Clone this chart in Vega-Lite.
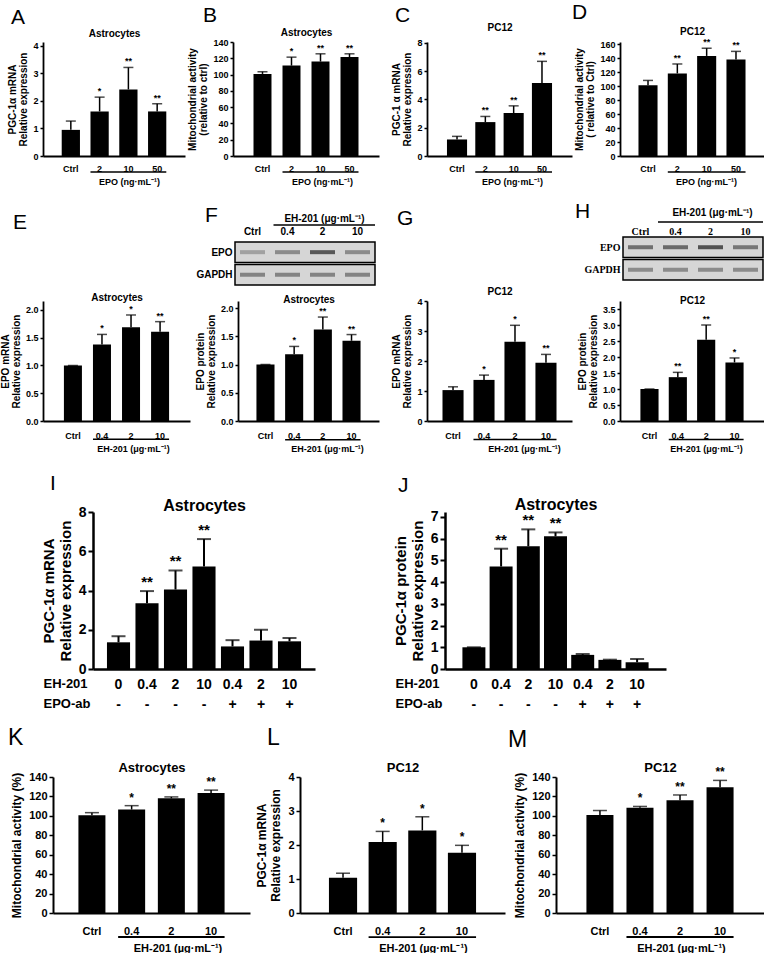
{
"$schema":"https://vega.github.io/schema/vega-lite/v6.json",
"padding":0,
"background":"white",
"spacing":0,
"bounds":"full",
"config":{
 "view":{"stroke":null},
 "font":"Liberation Sans",
 "axis":{"domainColor":"#000","domainWidth":1.8,"tickColor":"#000","tickWidth":1.5,"tickSize":3,"labelColor":"#000","labelFontWeight":"bold","labelFont":"Liberation Sans","titleColor":"#000","titleFontWeight":"bold","titleFont":"Liberation Sans","grid":false,"labelOverlap":false,"labelPadding":2},
 "title":{"font":"Liberation Sans","fontWeight":"normal","color":"#000","anchor":"start","frame":"group","fontSize":21},
 "text":{"font":"Liberation Sans","fontWeight":"bold","color":"#000"}
},
"vconcat":[
 {"width":1,"height":2,"data":{"values":[]},"mark":{"type":"text","text":""}},
 {"spacing":0,"bounds":"flush","hconcat":[
  {"width":43,"height":1,"data":{"values":[]},"mark":{"type":"text","text":""}},
  {"width":142,"height":114,"title":{"text":"A","dx":-32,"offset":0},
   "data":{"values":[{"g":"Ctrl","m":0.95,"u":1.27,"s":""},{"g":"2","m":1.62,"u":2.14,"s":"*"},{"g":"10","m":2.42,"u":3.22,"s":"**"},{"g":"50","m":1.62,"u":1.9,"s":"**"}]},
   "layer":[
    {"mark":{"type":"bar","color":"#000"},"encoding":{
     "x":{"field":"g","type":"nominal","sort":null,"scale":{"domain":["Ctrl","2","10","50"],"paddingInner":0.366,"paddingOuter":0.65},"axis":{"orient":"bottom","ticks":false,"labelAngle":0,"labelFontSize":9,"labelPadding":8,"title":"EPO (ng·mL⁻¹)","titleFontSize":9,"titleX":86,"titleY":25,"titleBaseline":"middle"}},
     "y":{"field":"m","type":"quantitative","scale":{"domain":[0,4.145],"nice":false},"axis":{"values":[0,1,2,3,4],"labelFontSize":9,"title":["PGC-1α mRNA","Relative expression"],"titleFontSize":10,"titlePadding":4,"titleLineHeight":11}}}},
    {"mark":{"type":"rule","strokeWidth":1.5,"color":"#000"},"encoding":{
     "x":{"field":"g","type":"nominal","sort":null,"axis":{"orient":"top","labels":false,"ticks":false,"domain":false,"title":"Astrocytes","titleFontSize":10,"titleY":-9,"titleBaseline":"middle"}},
     "y":{"field":"m","type":"quantitative","axis":null},"y2":{"field":"u"}}},
    {"mark":{"type":"tick","thickness":1.5,"size":10,"color":"#000"},"encoding":{"x":{"field":"g","type":"nominal","sort":null,"axis":null},"y":{"field":"u","type":"quantitative","axis":null}}},
    {"mark":{"type":"text","baseline":"bottom","dy":-1,"fontSize":9},"encoding":{"x":{"field":"g","type":"nominal","sort":null,"axis":null},"y":{"field":"u","type":"quantitative","axis":null},"text":{"field":"s"}}},
    {"data":{"values":[{"a":"2","b":"50"}]},"mark":{"type":"rule","strokeWidth":1.5,"color":"#000"},"encoding":{"x":{"field":"a","type":"nominal","bandPosition":0,"axis":null},"x2":{"field":"b","bandPosition":1},"y":{"datum":-0.58,"axis":null}}}
   ],
   "resolve":{"axis":{"x":"independent","y":"independent"}}},
  {"width":48,"height":1,"data":{"values":[]},"mark":{"type":"text","text":""}},
  {"width":146,"height":114,"title":{"text":"B","dx":-30,"offset":1},
   "data":{"values":[{"g":"Ctrl","m":100.8,"u":103.5,"s":""},{"g":"2","m":111,"u":121.4,"s":"*"},{"g":"10","m":116,"u":125.5,"s":"**"},{"g":"50","m":121.5,"u":125.5,"s":"**"}]},
   "layer":[
    {"mark":{"type":"bar","color":"#000"},"encoding":{
     "x":{"field":"g","type":"nominal","sort":null,"scale":{"domain":["Ctrl","2","10","50"],"paddingInner":0.38,"paddingOuter":0.707},"axis":{"orient":"bottom","ticks":false,"labelAngle":0,"labelFontSize":9,"labelPadding":8,"title":"EPO (ng·mL⁻¹)","titleFontSize":9,"titleX":89,"titleY":25,"titleBaseline":"middle"}},
     "y":{"field":"m","type":"quantitative","scale":{"domain":[0,140],"nice":false},"axis":{"values":[0,20,40,60,80,100,120,140],"labelFontSize":9,"title":["Mitochondrial activity","(relative to ctrl)"],"titleFontSize":10,"titlePadding":4,"titleLineHeight":11}}}},
    {"mark":{"type":"rule","strokeWidth":1.5,"color":"#000"},"encoding":{
     "x":{"field":"g","type":"nominal","sort":null,"axis":{"orient":"top","labels":false,"ticks":false,"domain":false,"title":"Astrocytes","titleFontSize":10,"titleY":-10,"titleBaseline":"middle"}},
     "y":{"field":"m","type":"quantitative","axis":null},"y2":{"field":"u"}}},
    {"mark":{"type":"tick","thickness":1.5,"size":10,"color":"#000"},"encoding":{"x":{"field":"g","type":"nominal","sort":null,"axis":null},"y":{"field":"u","type":"quantitative","axis":null}}},
    {"mark":{"type":"text","baseline":"bottom","dy":-1,"fontSize":9},"encoding":{"x":{"field":"g","type":"nominal","sort":null,"axis":null},"y":{"field":"u","type":"quantitative","axis":null},"text":{"field":"s"}}},
    {"data":{"values":[{"a":"2","b":"50"}]},"mark":{"type":"rule","strokeWidth":1.5,"color":"#000"},"encoding":{"x":{"field":"a","type":"nominal","bandPosition":0,"axis":null},"x2":{"field":"b","bandPosition":1},"y":{"datum":-19.6,"axis":null}}}
   ],
   "resolve":{"axis":{"x":"independent","y":"independent"}}},
  {"width":48,"height":1,"data":{"values":[]},"mark":{"type":"text","text":""}},
  {"width":145,"height":114,"title":{"text":"C","dx":-32,"offset":-4},
   "data":{"values":[{"g":"Ctrl","m":1.17,"u":1.39,"s":""},{"g":"2","m":2.4,"u":2.8,"s":"**"},{"g":"10","m":3.04,"u":3.55,"s":"**"},{"g":"50","m":5.17,"u":6.7,"s":"**"}]},
   "layer":[
    {"mark":{"type":"bar","color":"#000"},"encoding":{
     "x":{"field":"g","type":"nominal","sort":null,"scale":{"domain":["Ctrl","2","10","50"],"paddingInner":0.29,"paddingOuter":0.705},"axis":{"orient":"bottom","ticks":false,"labelAngle":0,"labelFontSize":9,"labelPadding":8,"title":"EPO (ng·mL⁻¹)","titleFontSize":9,"titleX":85,"titleY":25,"titleBaseline":"middle"}},
     "y":{"field":"m","type":"quantitative","scale":{"domain":[0,8.07],"nice":false},"axis":{"values":[0,2,4,6,8],"labelFontSize":9,"title":["PGC-1 α mRNA","Relative expression"],"titleFontSize":10,"titlePadding":4,"titleLineHeight":11}}}},
    {"mark":{"type":"rule","strokeWidth":1.5,"color":"#000"},"encoding":{
     "x":{"field":"g","type":"nominal","sort":null,"axis":{"orient":"top","labels":false,"ticks":false,"domain":false,"title":"PC12","titleFontSize":10,"titleY":-15,"titleBaseline":"middle"}},
     "y":{"field":"m","type":"quantitative","axis":null},"y2":{"field":"u"}}},
    {"mark":{"type":"tick","thickness":1.5,"size":10,"color":"#000"},"encoding":{"x":{"field":"g","type":"nominal","sort":null,"axis":null},"y":{"field":"u","type":"quantitative","axis":null}}},
    {"mark":{"type":"text","baseline":"bottom","dy":-1,"fontSize":9},"encoding":{"x":{"field":"g","type":"nominal","sort":null,"axis":null},"y":{"field":"u","type":"quantitative","axis":null},"text":{"field":"s"}}},
    {"data":{"values":[{"a":"2","b":"50"}]},"mark":{"type":"rule","strokeWidth":1.5,"color":"#000"},"encoding":{"x":{"field":"a","type":"nominal","bandPosition":0,"axis":null},"x2":{"field":"b","bandPosition":1},"y":{"datum":-1.13,"axis":null}}}
   ],
   "resolve":{"axis":{"x":"independent","y":"independent"}}},
  {"width":48,"height":1,"data":{"values":[]},"mark":{"type":"text","text":""}},
  {"width":144,"height":114,"title":{"text":"D","dx":-48,"offset":3},
   "data":{"values":[{"g":"Ctrl","m":101,"u":108,"s":""},{"g":"2","m":118,"u":131.5,"s":"**"},{"g":"10","m":143,"u":154,"s":"**"},{"g":"50","m":138,"u":149.5,"s":"**"}]},
   "layer":[
    {"mark":{"type":"bar","color":"#000"},"encoding":{
     "x":{"field":"g","type":"nominal","sort":null,"scale":{"domain":["Ctrl","2","10","50"],"paddingInner":0.35,"paddingOuter":0.63},"axis":{"orient":"bottom","ticks":false,"labelAngle":0,"labelFontSize":9,"labelPadding":8,"title":"EPO (ng·mL⁻¹)","titleFontSize":9,"titleX":86,"titleY":25,"titleBaseline":"middle"}},
     "y":{"field":"m","type":"quantitative","scale":{"domain":[0,162.9],"nice":false},"axis":{"values":[0,20,40,60,80,100,120,140,160],"labelFontSize":9,"title":["Mitochondrial activity","( relative to Ctrl)"],"titleFontSize":10,"titlePadding":4,"titleLineHeight":11}}}},
    {"mark":{"type":"rule","strokeWidth":1.5,"color":"#000"},"encoding":{
     "x":{"field":"g","type":"nominal","sort":null,"axis":{"orient":"top","labels":false,"ticks":false,"domain":false,"title":"PC12","titleFontSize":10,"titleY":-11,"titleBaseline":"middle"}},
     "y":{"field":"m","type":"quantitative","axis":null},"y2":{"field":"u"}}},
    {"mark":{"type":"tick","thickness":1.5,"size":10,"color":"#000"},"encoding":{"x":{"field":"g","type":"nominal","sort":null,"axis":null},"y":{"field":"u","type":"quantitative","axis":null}}},
    {"mark":{"type":"text","baseline":"bottom","dy":-1,"fontSize":9},"encoding":{"x":{"field":"g","type":"nominal","sort":null,"axis":null},"y":{"field":"u","type":"quantitative","axis":null},"text":{"field":"s"}}},
    {"data":{"values":[{"a":"2","b":"50"}]},"mark":{"type":"rule","strokeWidth":1.5,"color":"#000"},"encoding":{"x":{"field":"a","type":"nominal","bandPosition":0,"axis":null},"x2":{"field":"b","bandPosition":1},"y":{"datum":-22.9,"axis":null}}}
   ],
   "resolve":{"axis":{"x":"independent","y":"independent"}}}
 ]},
 {"width":1,"height":15,"data":{"values":[]},"mark":{"type":"text","text":""}},
 {"spacing":0,"bounds":"flush","hconcat":[
  {"width":13,"height":1,"data":{"values":[]},"mark":{"type":"text","text":""}},
  {"width":1,"height":1,"title":{"text":"E","offset":4},"data":{"values":[]},"mark":{"type":"text","text":""}},
  {"width":191,"height":1,"data":{"values":[]},"mark":{"type":"text","text":""}},
  {"width":1,"height":1,"title":{"text":"F","offset":11},"data":{"values":[]},"mark":{"type":"text","text":""}},
  {"width":29,"height":1,"data":{"values":[]},"mark":{"type":"text","text":""}},
  {"width":140,"height":48,
   "layer":[
    {"data":{"values":[{"row":"EPO","y0":1.1,"y1":2.1,"a":"Ctrl","b":"10"},{"row":"GAPDH","y0":0,"y1":1,"a":"Ctrl","b":"10"}]},
     "mark":{"type":"rect","fill":"#d6d6d6","stroke":"#000","strokeWidth":1.5},
     "encoding":{
      "x":{"field":"a","type":"nominal","bandPosition":0,"sort":null,"scale":{"domain":["Ctrl","0.4","2","10"],"paddingInner":0,"paddingOuter":0},"axis":{"orient":"top","ticks":false,"domain":false,"labelAngle":0,"labelFontSize":10,"labelPadding":1,"title":"EH-201 (μg·mL⁻¹)","titleFontSize":10,"titleX":89,"titleY":-19,"titleBaseline":"middle"}},
      "x2":{"field":"b","bandPosition":1},
      "y":{"field":"y0","type":"quantitative","scale":{"domain":[0,2.34],"nice":false},"axis":{"values":[0.5,1.6],"labelExpr":"datum.value > 1 ? 'EPO' : 'GAPDH'","ticks":false,"domain":false,"title":null,"labelFontSize":10,"labelPadding":3}},
      "y2":{"field":"y1"}}},
    {"data":{"values":[{"lane":"Ctrl","y":1.6,"v":0.35},{"lane":"0.4","y":1.6,"v":0.5},{"lane":"2","y":1.6,"v":0.9},{"lane":"10","y":1.6,"v":0.5},{"lane":"Ctrl","y":0.5,"v":0.55},{"lane":"0.4","y":0.5,"v":0.55},{"lane":"2","y":0.5,"v":0.55},{"lane":"10","y":0.5,"v":0.55}]},
     "mark":{"type":"tick","thickness":4,"size":25},
     "encoding":{"x":{"field":"lane","type":"nominal","axis":null},"y":{"field":"y","type":"quantitative","axis":null},"color":{"field":"v","type":"quantitative","scale":{"domain":[0,1],"range":["#d6d6d6","#111111"]},"legend":null}}},
    {"data":{"values":[{"a":"0.4","b":"10"}]},"mark":{"type":"rule","strokeWidth":1.5,"color":"#000"},"encoding":{"x":{"field":"a","type":"nominal","bandPosition":0.1,"axis":null},"x2":{"field":"b","bandPosition":1},"y":{"datum":2.93,"axis":null}}}
   ],
   "resolve":{"axis":{"x":"independent","y":"independent"}}},
  {"width":22,"height":1,"data":{"values":[]},"mark":{"type":"text","text":""}},
  {"width":1,"height":1,"title":{"text":"G","offset":8},"data":{"values":[]},"mark":{"type":"text","text":""}},
  {"width":177,"height":1,"data":{"values":[]},"mark":{"type":"text","text":""}},
  {"width":1,"height":1,"title":{"text":"H","offset":15},"data":{"values":[]},"mark":{"type":"text","text":""}},
  {"width":47,"height":1,"data":{"values":[]},"mark":{"type":"text","text":""}},
  {"width":140,"height":43,
   "layer":[
    {"data":{"values":[{"row":"EPO","y0":1.1,"y1":2.1,"a":"Ctrl","b":"10"},{"row":"GAPDH","y0":0,"y1":1,"a":"Ctrl","b":"10"}]},
     "mark":{"type":"rect","fill":"#d6d6d6","stroke":"#000","strokeWidth":1.5},
     "encoding":{
      "x":{"field":"a","type":"nominal","bandPosition":0,"sort":null,"scale":{"domain":["Ctrl","0.4","2","10"],"paddingInner":0,"paddingOuter":0},"axis":{"orient":"top","ticks":false,"domain":false,"labelAngle":0,"labelFontSize":10,"labelFont":"Liberation Serif","labelPadding":1,"title":"EH-201 (μg·mL⁻¹)","titleFontSize":10,"titleX":89,"titleY":-25,"titleBaseline":"middle"}},
      "x2":{"field":"b","bandPosition":1},
      "y":{"field":"y0","type":"quantitative","scale":{"domain":[0,2.1],"nice":false},"axis":{"values":[0.5,1.6],"labelExpr":"datum.value > 1 ? 'EPO' : 'GAPDH'","ticks":false,"domain":false,"title":null,"labelFontSize":10,"labelFont":"Liberation Serif","labelPadding":3}},
      "y2":{"field":"y1"}}},
    {"data":{"values":[{"lane":"Ctrl","y":1.6,"v":0.7},{"lane":"0.4","y":1.6,"v":0.75},{"lane":"2","y":1.6,"v":0.95},{"lane":"10","y":1.6,"v":0.65},{"lane":"Ctrl","y":0.5,"v":0.5},{"lane":"0.4","y":0.5,"v":0.5},{"lane":"2","y":0.5,"v":0.5},{"lane":"10","y":0.5,"v":0.5}]},
     "mark":{"type":"tick","thickness":4,"size":25},
     "encoding":{"x":{"field":"lane","type":"nominal","axis":null},"y":{"field":"y","type":"quantitative","axis":null},"color":{"field":"v","type":"quantitative","scale":{"domain":[0,1],"range":["#d6d6d6","#111111"]},"legend":null}}},
    {"data":{"values":[{"a":"0.4","b":"10"}]},"mark":{"type":"rule","strokeWidth":1.5,"color":"#000"},"encoding":{"x":{"field":"a","type":"nominal","bandPosition":0,"axis":null},"x2":{"field":"b","bandPosition":1},"y":{"datum":2.83,"axis":null}}}
   ],
   "resolve":{"axis":{"x":"independent","y":"independent"}}}
 ]},
 {"spacing":0,"bounds":"flush","hconcat":[
  {"width":43,"height":1,"data":{"values":[]},"mark":{"type":"text","text":""}},
  {"width":147,"height":120,
   "data":{"values":[{"g":"Ctrl","m":1.0,"u":1.0,"s":""},{"g":"0.4","m":1.38,"u":1.56,"s":"*"},{"g":"2","m":1.69,"u":1.91,"s":"*"},{"g":"10","m":1.61,"u":1.79,"s":"**"}]},
   "layer":[
    {"mark":{"type":"bar","color":"#000"},"encoding":{
     "x":{"field":"g","type":"nominal","sort":null,"scale":{"domain":["Ctrl","0.4","2","10"],"paddingInner":0.38,"paddingOuter":0.72},"axis":{"orient":"bottom","ticks":false,"labelAngle":0,"labelFontSize":9,"labelPadding":10,"title":"EH-201 (μg·mL⁻¹)","titleFontSize":9,"titleX":90,"titleY":27,"titleBaseline":"middle"}},
     "y":{"field":"m","type":"quantitative","scale":{"domain":[0,2.162],"nice":false},"axis":{"values":[0,0.5,1,1.5,2],"format":".1f","labelFontSize":9,"title":["EPO mRNA","Relative expression"],"titleFontSize":10,"titlePadding":4,"titleLineHeight":11}}}},
    {"mark":{"type":"rule","strokeWidth":1.5,"color":"#000"},"encoding":{
     "x":{"field":"g","type":"nominal","sort":null,"axis":{"orient":"top","labels":false,"ticks":false,"domain":false,"title":"Astrocytes","titleFontSize":10,"titleY":-4,"titleBaseline":"middle"}},
     "y":{"field":"m","type":"quantitative","axis":null},"y2":{"field":"u"}}},
    {"mark":{"type":"tick","thickness":1.5,"size":10,"color":"#000"},"encoding":{"x":{"field":"g","type":"nominal","sort":null,"axis":null},"y":{"field":"u","type":"quantitative","axis":null}}},
    {"mark":{"type":"text","baseline":"bottom","dy":-1,"fontSize":9},"encoding":{"x":{"field":"g","type":"nominal","sort":null,"axis":null},"y":{"field":"u","type":"quantitative","axis":null},"text":{"field":"s"}}},
    {"data":{"values":[{"a":"0.4","b":"10"}]},"mark":{"type":"rule","strokeWidth":1.5,"color":"#000"},"encoding":{"x":{"field":"a","type":"nominal","bandPosition":0,"axis":null},"x2":{"field":"b","bandPosition":1},"y":{"datum":-0.33,"axis":null}}}
   ],
   "resolve":{"axis":{"x":"independent","y":"independent"}}},
  {"width":48,"height":1,"data":{"values":[]},"mark":{"type":"text","text":""}},
  {"width":141,"height":120,
   "data":{"values":[{"g":"Ctrl","m":1.0,"u":1.0,"s":""},{"g":"0.4","m":1.18,"u":1.32,"s":"*"},{"g":"2","m":1.62,"u":1.84,"s":"**"},{"g":"10","m":1.42,"u":1.53,"s":"**"}]},
   "layer":[
    {"mark":{"type":"bar","color":"#000"},"encoding":{
     "x":{"field":"g","type":"nominal","sort":null,"scale":{"domain":["Ctrl","0.4","2","10"],"paddingInner":0.37,"paddingOuter":0.643},"axis":{"orient":"bottom","ticks":false,"labelAngle":0,"labelFontSize":9,"labelPadding":10,"title":"EH-201 (μg·mL⁻¹)","titleFontSize":9,"titleX":89,"titleY":27,"titleBaseline":"middle"}},
     "y":{"field":"m","type":"quantitative","scale":{"domain":[0,2.124],"nice":false},"axis":{"values":[0,0.5,1,1.5,2],"format":".1f","labelFontSize":9,"title":["EPO protein","Relative expression"],"titleFontSize":10,"titlePadding":4,"titleLineHeight":11}}}},
    {"mark":{"type":"rule","strokeWidth":1.5,"color":"#000"},"encoding":{
     "x":{"field":"g","type":"nominal","sort":null,"axis":{"orient":"top","labels":false,"ticks":false,"domain":false,"title":"Astrocytes","titleFontSize":10,"titleY":-2,"titleBaseline":"middle"}},
     "y":{"field":"m","type":"quantitative","axis":null},"y2":{"field":"u"}}},
    {"mark":{"type":"tick","thickness":1.5,"size":10,"color":"#000"},"encoding":{"x":{"field":"g","type":"nominal","sort":null,"axis":null},"y":{"field":"u","type":"quantitative","axis":null}}},
    {"mark":{"type":"text","baseline":"bottom","dy":-1,"fontSize":9},"encoding":{"x":{"field":"g","type":"nominal","sort":null,"axis":null},"y":{"field":"u","type":"quantitative","axis":null},"text":{"field":"s"}}},
    {"data":{"values":[{"a":"0.4","b":"10"}]},"mark":{"type":"rule","strokeWidth":1.5,"color":"#000"},"encoding":{"x":{"field":"a","type":"nominal","bandPosition":0,"axis":null},"x2":{"field":"b","bandPosition":1},"y":{"datum":-0.33,"axis":null}}}
   ],
   "resolve":{"axis":{"x":"independent","y":"independent"}}},
  {"width":48,"height":1,"data":{"values":[]},"mark":{"type":"text","text":""}},
  {"width":145,"height":120,
   "data":{"values":[{"g":"Ctrl","m":1.03,"u":1.14,"s":""},{"g":"0.4","m":1.37,"u":1.53,"s":"*"},{"g":"2","m":2.64,"u":3.19,"s":"*"},{"g":"10","m":1.94,"u":2.22,"s":"**"}]},
   "layer":[
    {"mark":{"type":"bar","color":"#000"},"encoding":{
     "x":{"field":"g","type":"nominal","sort":null,"scale":{"domain":["Ctrl","0.4","2","10"],"paddingInner":0.32,"paddingOuter":0.5},"axis":{"orient":"bottom","ticks":false,"labelAngle":0,"labelFontSize":9,"labelPadding":10,"title":"EH-201 (μg·mL⁻¹)","titleFontSize":9,"titleX":97,"titleY":27,"titleBaseline":"middle"}},
     "y":{"field":"m","type":"quantitative","scale":{"domain":[0,4],"nice":false},"axis":{"values":[0,1,2,3,4],"labelFontSize":9,"title":["EPO mRNA","Relative expression"],"titleFontSize":10,"titlePadding":4,"titleLineHeight":11}}}},
    {"mark":{"type":"rule","strokeWidth":1.5,"color":"#000"},"encoding":{
     "x":{"field":"g","type":"nominal","sort":null,"axis":{"orient":"top","labels":false,"ticks":false,"domain":false,"title":"PC12","titleFontSize":10,"titleY":-10,"titleBaseline":"middle"}},
     "y":{"field":"m","type":"quantitative","axis":null},"y2":{"field":"u"}}},
    {"mark":{"type":"tick","thickness":1.5,"size":10,"color":"#000"},"encoding":{"x":{"field":"g","type":"nominal","sort":null,"axis":null},"y":{"field":"u","type":"quantitative","axis":null}}},
    {"mark":{"type":"text","baseline":"bottom","dy":-1,"fontSize":9},"encoding":{"x":{"field":"g","type":"nominal","sort":null,"axis":null},"y":{"field":"u","type":"quantitative","axis":null},"text":{"field":"s"}}},
    {"data":{"values":[{"a":"0.4","b":"10"}]},"mark":{"type":"rule","strokeWidth":1.5,"color":"#000"},"encoding":{"x":{"field":"a","type":"nominal","bandPosition":0,"axis":null},"x2":{"field":"b","bandPosition":1},"y":{"datum":-0.62,"axis":null}}}
   ],
   "resolve":{"axis":{"x":"independent","y":"independent"}}},
  {"width":48,"height":1,"data":{"values":[]},"mark":{"type":"text","text":""}},
  {"width":144,"height":120,
   "data":{"values":[{"g":"Ctrl","m":1.0,"u":1.0,"s":""},{"g":"0.4","m":1.37,"u":1.52,"s":"**"},{"g":"2","m":2.54,"u":3.0,"s":"**"},{"g":"10","m":1.83,"u":1.97,"s":"*"}]},
   "layer":[
    {"mark":{"type":"bar","color":"#000"},"encoding":{
     "x":{"field":"g","type":"nominal","sort":null,"scale":{"domain":["Ctrl","0.4","2","10"],"paddingInner":0.36,"paddingOuter":0.72},"axis":{"orient":"bottom","ticks":false,"labelAngle":0,"labelFontSize":9,"labelPadding":10,"title":"EH-201 (μg·mL⁻¹)","titleFontSize":9,"titleX":86,"titleY":27,"titleBaseline":"middle"}},
     "y":{"field":"m","type":"quantitative","scale":{"domain":[0,3.75],"nice":false},"axis":{"values":[0,0.5,1,1.5,2,2.5,3,3.5],"format":".1f","labelFontSize":9,"title":["EPO protein","Relative expression"],"titleFontSize":10,"titlePadding":4,"titleLineHeight":11}}}},
    {"mark":{"type":"rule","strokeWidth":1.5,"color":"#000"},"encoding":{
     "x":{"field":"g","type":"nominal","sort":null,"axis":{"orient":"top","labels":false,"ticks":false,"domain":false,"title":"PC12","titleFontSize":10,"titleY":-1,"titleBaseline":"middle"}},
     "y":{"field":"m","type":"quantitative","axis":null},"y2":{"field":"u"}}},
    {"mark":{"type":"tick","thickness":1.5,"size":10,"color":"#000"},"encoding":{"x":{"field":"g","type":"nominal","sort":null,"axis":null},"y":{"field":"u","type":"quantitative","axis":null}}},
    {"mark":{"type":"text","baseline":"bottom","dy":-1,"fontSize":9},"encoding":{"x":{"field":"g","type":"nominal","sort":null,"axis":null},"y":{"field":"u","type":"quantitative","axis":null},"text":{"field":"s"}}},
    {"data":{"values":[{"a":"0.4","b":"10"}]},"mark":{"type":"rule","strokeWidth":1.5,"color":"#000"},"encoding":{"x":{"field":"a","type":"nominal","bandPosition":0,"axis":null},"x2":{"field":"b","bandPosition":1},"y":{"datum":-0.58,"axis":null}}}
   ],
   "resolve":{"axis":{"x":"independent","y":"independent"}}}
 ]},
 {"width":1,"height":20,"data":{"values":[]},"mark":{"type":"text","text":""}},
 {"spacing":0,"bounds":"flush","hconcat":[
  {"width":93,"height":1,"data":{"values":[]},"mark":{"type":"text","text":""}},
  {"width":222,"height":157,"title":{"text":"I","dx":-43,"offset":3},
   "data":{"values":[{"g":"0|-","m":1.36,"u":1.67,"s":""},{"g":"0.4|-","m":3.35,"u":3.97,"s":"**"},{"g":"2|-","m":4.05,"u":5.02,"s":"**"},{"g":"10|-","m":5.22,"u":6.62,"s":"**"},{"g":"0.4|+","m":1.15,"u":1.47,"s":""},{"g":"2|+","m":1.45,"u":2.0,"s":""},{"g":"10|+","m":1.41,"u":1.58,"s":""}]},
   "layer":[
    {"mark":{"type":"bar","color":"#000"},"encoding":{
     "x":{"field":"g","type":"nominal","sort":null,"scale":{"domain":["0|-","0.4|-","2|-","10|-","0.4|+","2|+","10|+"],"paddingInner":0.19,"paddingOuter":0.49},"axis":{"orient":"bottom","ticks":false,"labelAngle":0,"labelFontSize":14,"labelPadding":8,"labelLineHeight":20,"labelExpr":"split(datum.value, '|')","domainWidth":2.5,"title":["EH-201","\u00a0\u00a0\u00a0\u00a0EPO-ab"],"titleFontSize":13,"titleAngle":0,"titleAlign":"left","titleX":-50,"titleY":8,"titleBaseline":"top","titleLineHeight":20}},
     "y":{"field":"m","type":"quantitative","scale":{"domain":[0,8],"nice":false},"axis":{"values":[0,2,4,6,8],"labelFontSize":14,"tickSize":5,"tickWidth":2,"domainWidth":2.5,"title":["PGC-1α mRNA","Relative expression"],"titleFontSize":15,"titlePadding":5,"titleLineHeight":17}}}},
    {"mark":{"type":"rule","strokeWidth":2,"color":"#000"},"encoding":{
     "x":{"field":"g","type":"nominal","sort":null,"axis":{"orient":"top","labels":false,"ticks":false,"domain":false,"title":"Astrocytes","titleFontSize":16,"titleY":-7,"titleBaseline":"middle"}},
     "y":{"field":"m","type":"quantitative","axis":null},"y2":{"field":"u"}}},
    {"mark":{"type":"tick","thickness":2,"size":14,"color":"#000"},"encoding":{"x":{"field":"g","type":"nominal","sort":null,"axis":null},"y":{"field":"u","type":"quantitative","axis":null}}},
    {"mark":{"type":"text","baseline":"bottom","dy":-1,"fontSize":15},"encoding":{"x":{"field":"g","type":"nominal","sort":null,"axis":null},"y":{"field":"u","type":"quantitative","axis":null},"text":{"field":"s"}}}
   ],
   "resolve":{"axis":{"x":"independent","y":"independent"}}},
  {"width":130,"height":1,"data":{"values":[]},"mark":{"type":"text","text":""}},
  {"width":221,"height":157,"title":{"text":"J","dx":-47,"offset":0},
   "data":{"values":[{"g":"0|-","m":1.0,"u":1.0,"s":""},{"g":"0.4|-","m":4.72,"u":5.54,"s":"**"},{"g":"2|-","m":5.65,"u":6.43,"s":"**"},{"g":"10|-","m":6.11,"u":6.29,"s":"**"},{"g":"0.4|+","m":0.65,"u":0.69,"s":""},{"g":"2|+","m":0.42,"u":0.43,"s":""},{"g":"10|+","m":0.31,"u":0.46,"s":""}]},
   "layer":[
    {"mark":{"type":"bar","color":"#000"},"encoding":{
     "x":{"field":"g","type":"nominal","sort":null,"scale":{"domain":["0|-","0.4|-","2|-","10|-","0.4|+","2|+","10|+"],"paddingInner":0.155,"paddingOuter":0.64},"axis":{"orient":"bottom","ticks":false,"labelAngle":0,"labelFontSize":14,"labelPadding":8,"labelLineHeight":20,"labelExpr":"split(datum.value, '|')","domainWidth":2.5,"title":["EH-201","\u00a0\u00a0\u00a0\u00a0\u00a0EPO-ab"],"titleFontSize":13,"titleAngle":0,"titleAlign":"left","titleX":-50,"titleY":8,"titleBaseline":"top","titleLineHeight":20}},
     "y":{"field":"m","type":"quantitative","scale":{"domain":[0,7.23],"nice":false},"axis":{"values":[0,1,2,3,4,5,6,7],"labelFontSize":14,"tickSize":5,"tickWidth":2,"domainWidth":2.5,"title":["PGC-1α protein","Relative expression"],"titleFontSize":15,"titlePadding":5,"titleLineHeight":17}}}},
    {"mark":{"type":"rule","strokeWidth":2,"color":"#000"},"encoding":{
     "x":{"field":"g","type":"nominal","sort":null,"axis":{"orient":"top","labels":false,"ticks":false,"domain":false,"title":"Astrocytes","titleFontSize":16,"titleY":-8,"titleBaseline":"middle"}},
     "y":{"field":"m","type":"quantitative","axis":null},"y2":{"field":"u"}}},
    {"mark":{"type":"tick","thickness":2,"size":14,"color":"#000"},"encoding":{"x":{"field":"g","type":"nominal","sort":null,"axis":null},"y":{"field":"u","type":"quantitative","axis":null}}},
    {"mark":{"type":"text","baseline":"bottom","dy":-1,"fontSize":15},"encoding":{"x":{"field":"g","type":"nominal","sort":null,"axis":null},"y":{"field":"u","type":"quantitative","axis":null},"text":{"field":"s"}}}
   ],
   "resolve":{"axis":{"x":"independent","y":"independent"}}}
 ]},
 {"width":1,"height":15,"data":{"values":[]},"mark":{"type":"text","text":""}},
 {"spacing":0,"bounds":"flush","hconcat":[
  {"width":53,"height":1,"data":{"values":[]},"mark":{"type":"text","text":""}},
  {"width":197,"height":136,"title":{"text":"K","dx":-45,"offset":11.5,"fontSize":23},
   "data":{"values":[{"g":"Ctrl","m":100.5,"u":103.3,"s":""},{"g":"0.4","m":106.5,"u":110.5,"s":"*"},{"g":"2","m":118,"u":119.5,"s":"**"},{"g":"10","m":123.5,"u":126.5,"s":"**"}]},
   "layer":[
    {"mark":{"type":"bar","color":"#000"},"encoding":{
     "x":{"field":"g","type":"nominal","sort":null,"scale":{"domain":["Ctrl","0.4","2","10"],"paddingInner":0.32,"paddingOuter":0.64},"axis":{"orient":"bottom","ticks":false,"labelAngle":0,"labelFontSize":11,"labelPadding":12,"domainWidth":2,"title":"EH-201 (µg·mL⁻¹)","titleFontSize":11,"titleX":124.5,"titleY":35,"titleBaseline":"middle"}},
     "y":{"field":"m","type":"quantitative","scale":{"domain":[0,140],"nice":false},"axis":{"values":[0,20,40,60,80,100,120,140],"labelFontSize":11,"tickSize":4,"domainWidth":2,"title":"Mitochondrial activity (%)","titleFontSize":12,"titlePadding":5}}}},
    {"mark":{"type":"rule","strokeWidth":1.5,"color":"#000"},"encoding":{
     "x":{"field":"g","type":"nominal","sort":null,"axis":{"orient":"top","labels":false,"ticks":false,"domain":false,"title":"Astrocytes","titleFontSize":13,"titleY":-10,"titleBaseline":"middle"}},
     "y":{"field":"m","type":"quantitative","axis":null},"y2":{"field":"u"}}},
    {"mark":{"type":"tick","thickness":1.5,"size":14,"color":"#000"},"encoding":{"x":{"field":"g","type":"nominal","sort":null,"axis":null},"y":{"field":"u","type":"quantitative","axis":null}}},
    {"mark":{"type":"text","baseline":"bottom","dy":-1,"fontSize":12},"encoding":{"x":{"field":"g","type":"nominal","sort":null,"axis":null},"y":{"field":"u","type":"quantitative","axis":null},"text":{"field":"s"}}},
    {"data":{"values":[{"a":"0.4","b":"10"}]},"mark":{"type":"rule","strokeWidth":1.8,"color":"#000"},"encoding":{"x":{"field":"a","type":"nominal","bandPosition":0,"axis":null},"x2":{"field":"b","bandPosition":1},"y":{"datum":-24.7,"axis":null}}}
   ],
   "resolve":{"axis":{"x":"independent","y":"independent"}}},
  {"width":50,"height":1,"data":{"values":[]},"mark":{"type":"text","text":""}},
  {"width":205,"height":136,"title":{"text":"L","dx":-33,"offset":11.5,"fontSize":23},
   "data":{"values":[{"g":"Ctrl","m":1.04,"u":1.17,"s":""},{"g":"0.4","m":2.09,"u":2.4,"s":"*"},{"g":"2","m":2.43,"u":2.83,"s":"*"},{"g":"10","m":1.77,"u":1.99,"s":"*"}]},
   "layer":[
    {"mark":{"type":"bar","color":"#000"},"encoding":{
     "x":{"field":"g","type":"nominal","sort":null,"scale":{"domain":["Ctrl","0.4","2","10"],"paddingInner":0.29,"paddingOuter":0.73},"axis":{"orient":"bottom","ticks":false,"labelAngle":0,"labelFontSize":11,"labelPadding":12,"domainWidth":2,"title":"EH-201 (µg·mL⁻¹)","titleFontSize":11,"titleX":123,"titleY":35,"titleBaseline":"middle"}},
     "y":{"field":"m","type":"quantitative","scale":{"domain":[0,4],"nice":false},"axis":{"values":[0,1,2,3,4],"labelFontSize":11,"tickSize":4,"domainWidth":2,"title":["PGC-1α mRNA","Relative expression"],"titleFontSize":12,"titlePadding":5,"titleLineHeight":14}}}},
    {"mark":{"type":"rule","strokeWidth":1.5,"color":"#000"},"encoding":{
     "x":{"field":"g","type":"nominal","sort":null,"axis":{"orient":"top","labels":false,"ticks":false,"domain":false,"title":"PC12","titleFontSize":13,"titleY":-10,"titleBaseline":"middle"}},
     "y":{"field":"m","type":"quantitative","axis":null},"y2":{"field":"u"}}},
    {"mark":{"type":"tick","thickness":1.5,"size":14,"color":"#000"},"encoding":{"x":{"field":"g","type":"nominal","sort":null,"axis":null},"y":{"field":"u","type":"quantitative","axis":null}}},
    {"mark":{"type":"text","baseline":"bottom","dy":-1,"fontSize":12},"encoding":{"x":{"field":"g","type":"nominal","sort":null,"axis":null},"y":{"field":"u","type":"quantitative","axis":null},"text":{"field":"s"}}},
    {"data":{"values":[{"a":"0.4","b":"10"}]},"mark":{"type":"rule","strokeWidth":1.8,"color":"#000"},"encoding":{"x":{"field":"a","type":"nominal","bandPosition":0,"axis":null},"x2":{"field":"b","bandPosition":1},"y":{"datum":-0.71,"axis":null}}}
   ],
   "resolve":{"axis":{"x":"independent","y":"independent"}}},
  {"width":51,"height":1,"data":{"values":[]},"mark":{"type":"text","text":""}},
  {"width":208,"height":136,"title":{"text":"M","dx":-48,"offset":9.5,"fontSize":23},
   "data":{"values":[{"g":"Ctrl","m":101,"u":105.5,"s":""},{"g":"0.4","m":108.3,"u":109.7,"s":"*"},{"g":"2","m":116,"u":121.5,"s":"**"},{"g":"10","m":129.5,"u":136.5,"s":"**"}]},
   "layer":[
    {"mark":{"type":"bar","color":"#000"},"encoding":{
     "x":{"field":"g","type":"nominal","sort":null,"scale":{"domain":["Ctrl","0.4","2","10"],"paddingInner":0.325,"paddingOuter":0.76},"axis":{"orient":"bottom","ticks":false,"labelAngle":0,"labelFontSize":11,"labelPadding":12,"domainWidth":2,"title":"EH-201 (µg·mL⁻¹)","titleFontSize":11,"titleX":125,"titleY":35,"titleBaseline":"middle"}},
     "y":{"field":"m","type":"quantitative","scale":{"domain":[0,140],"nice":false},"axis":{"values":[0,20,40,60,80,100,120,140],"labelFontSize":11,"tickSize":4,"domainWidth":2,"title":"Mitochondrial activity (%)","titleFontSize":12,"titlePadding":5}}}},
    {"mark":{"type":"rule","strokeWidth":1.5,"color":"#000"},"encoding":{
     "x":{"field":"g","type":"nominal","sort":null,"axis":{"orient":"top","labels":false,"ticks":false,"domain":false,"title":"PC12","titleFontSize":13,"titleY":-10,"titleBaseline":"middle"}},
     "y":{"field":"m","type":"quantitative","axis":null},"y2":{"field":"u"}}},
    {"mark":{"type":"tick","thickness":1.5,"size":14,"color":"#000"},"encoding":{"x":{"field":"g","type":"nominal","sort":null,"axis":null},"y":{"field":"u","type":"quantitative","axis":null}}},
    {"mark":{"type":"text","baseline":"bottom","dy":-1,"fontSize":12},"encoding":{"x":{"field":"g","type":"nominal","sort":null,"axis":null},"y":{"field":"u","type":"quantitative","axis":null},"text":{"field":"s"}}},
    {"data":{"values":[{"a":"0.4","b":"10"}]},"mark":{"type":"rule","strokeWidth":1.8,"color":"#000"},"encoding":{"x":{"field":"a","type":"nominal","bandPosition":0,"axis":null},"x2":{"field":"b","bandPosition":1},"y":{"datum":-24.7,"axis":null}}}
   ],
   "resolve":{"axis":{"x":"independent","y":"independent"}}}
 ]}
]
}
